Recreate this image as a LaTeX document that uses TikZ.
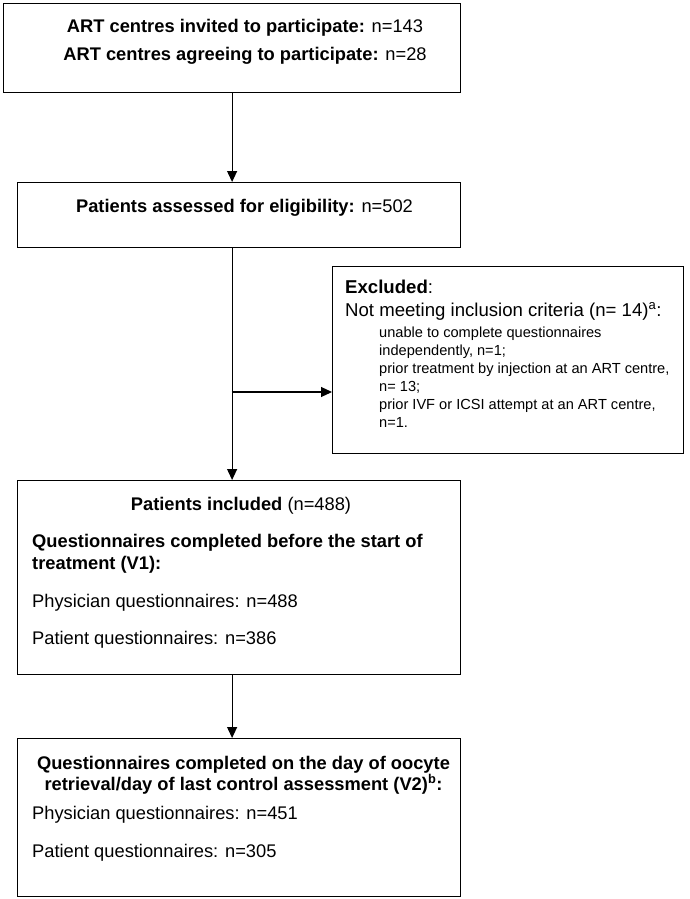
\documentclass[tikz,border=0pt]{standalone}
\usepackage{fontspec}
\setmainfont{Liberation Sans}
\usetikzlibrary{arrows.meta}
\newcommand{\bigtxt}{\fontsize{18.3}{21}\selectfont}
\newcommand{\smalltxt}{\fontsize{14.6}{18}\selectfont}
\tikzset{
  box/.style={draw=black, line width=1.2pt, fill=white, anchor=north west, inner sep=0pt},
  txt/.style={font=\bigtxt, inner sep=0pt},
  stxt/.style={font=\smalltxt, inner sep=0pt, anchor=base west},
  arr/.style={line width=1.1pt, -{Triangle[length=11pt,width=10pt]}}
}
\begin{document}
\begin{tikzpicture}[x=1pt,y=-1pt]
\useasboundingbox[fill=white] (0,0) rectangle (689,899);
% boxes
\node[box, minimum width=457pt, minimum height=89pt] (b1) at (3,3) {};
\node[box, minimum width=443pt, minimum height=65pt] (b2) at (17,182) {};
\node[box, minimum width=351pt, minimum height=187pt] (b3) at (332,266) {};
\node[box, minimum width=443pt, minimum height=194pt] (b4) at (17,480) {};
\node[box, minimum width=443pt, minimum height=158pt] (b5) at (17,738) {};
% box 1 text
\node[txt, anchor=base] (t11) at (245,33) {\textbf{ART centres invited to participate:} n=143};
\node[txt, anchor=base] (t12) at (245,60) {\textbf{ART centres agreeing to participate:} n=28};
% box 2 text
\node[txt, anchor=base] (t21) at (244.5,212) {\textbf{Patients assessed for eligibility:} n=502};
% box 3 text
\node[txt, anchor=base west, font=\fontsize{18.6}{21}\selectfont] (t31) at (345,293) {\textbf{Excluded}:};
\node[txt, anchor=base west, font=\fontsize{18.6}{21}\selectfont] (t32) at (345,316) {Not meeting inclusion criteria (n= 14)\textsuperscript{a}:};
\node[stxt] (t33) at (379,337) {unable to complete questionnaires};
\node[stxt] (t34) at (379,355) {independently, n=1;};
\node[stxt] (t35) at (379,373) {prior treatment by injection at an ART centre,};
\node[stxt] (t36) at (379,391) {n= 13;};
\node[stxt] (t37) at (379,409) {prior IVF or ICSI attempt at an ART centre,};
\node[stxt] (t38) at (379,427) {n=1.};
% box 4 text
\node[txt, anchor=base] (t41) at (241,510) {\textbf{Patients included} (n=488)};
\node[txt, anchor=base west] (t42) at (32,547) {\textbf{Questionnaires completed before the start of}};
\node[txt, anchor=base west] (t43) at (32,569) {\textbf{treatment (V1):}};
\node[txt, anchor=base west] (t44) at (32,607) {Physician questionnaires: n=488};
\node[txt, anchor=base west] (t45) at (32,644) {Patient questionnaires: n=386};
% box 5 text
\node[txt, anchor=base] (t51) at (243.5,769) {\textbf{Questionnaires completed on the day of oocyte}};
\node[txt, anchor=base] (t52) at (243.5,790) {\textbf{retrieval/day of last control assessment (V2)\textsuperscript{b}:}};
\node[txt, anchor=base west] (t53) at (32,819) {Physician questionnaires: n=451};
\node[txt, anchor=base west] (t54) at (32,857) {Patient questionnaires: n=305};
% connectors
\draw[arr] (b1.south) -- (b1.south |- b2.north);
\draw[arr] (b1.south |- b2.south) -- (b1.south |- b4.north);
\coordinate (br) at (231.5,392);
\draw[arr] (br) -- (br -| b3.west);
\draw[arr] (b1.south |- b4.south) -- (b1.south |- b5.north);
\end{tikzpicture}
\end{document}
